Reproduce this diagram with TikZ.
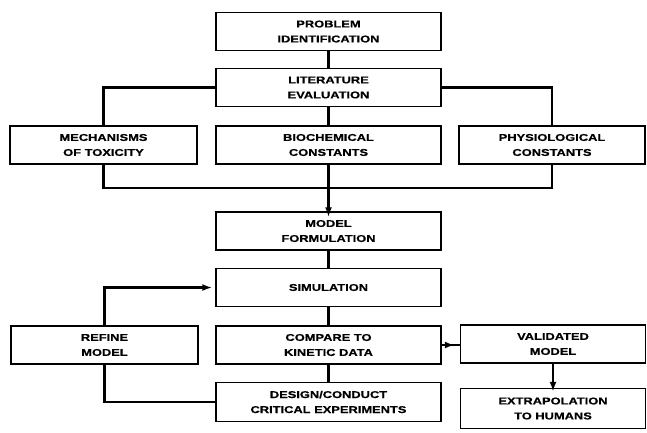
\documentclass[tikz,border=0pt]{standalone}
\usepackage{fontspec}
\newfontfamily\boxfont[FakeStretch=1.3,FakeBold=0.6]{Liberation Sans}
\usetikzlibrary{arrows.meta}
\begin{document}
\begin{tikzpicture}[x=1pt,y=-1pt,
  box/.style={draw=black,line width=1.5pt,fill=white,minimum height=38pt,
    align=center,inner sep=0pt,font=\boxfont\bfseries\fontsize{9.9pt}{15pt}\selectfont},
  wide/.style={box,minimum width=225pt},
  side/.style={box,minimum width=187pt},
  conn/.style={line width=2.8pt,line cap=butt},
  arr/.style={conn,-{Latex[length=10pt,width=7pt]}}]
\useasboundingbox (0,0) rectangle (647,432);
% nodes
\node[wide] (prob) at (328.5,31.5) {PROBLEM\\IDENTIFICATION};
\node[wide] (lit) at (328.5,87.5) {LITERATURE\\EVALUATION};
\node[side] (mech) at (103.5,145) {MECHANISMS\\OF TOXICITY};
\node[wide] (bio) at (328.5,145) {BIOCHEMICAL\\CONSTANTS};
\node[side,minimum width=186pt] (phys) at (552,145) {PHYSIOLOGICAL\\CONSTANTS};
\node[wide] (model) at (328.5,231) {MODEL\\FORMULATION};
\node[wide] (sim) at (328.5,287.5) {SIMULATION};
\node[side] (refine) at (104.5,345) {REFINE\\MODEL};
\node[wide] (comp) at (328.5,345) {COMPARE TO\\KINETIC DATA};
\node[side,minimum width=185pt] (val) at (553,344) {VALIDATED\\MODEL};
\node[wide,minimum height=39pt] (design) at (328.5,402) {DESIGN/CONDUCT\\CRITICAL EXPERIMENTS};
\node[side,minimum width=185pt,minimum height=40pt] (extra) at (553,408.5) {EXTRAPOLATION\\TO HUMANS};
\coordinate (bus) at (328.5,188);
% connectors
\draw[conn] (prob) -- (lit);
\draw[conn] (lit.west) -| (mech.north);
\draw[conn] (lit.east) -| (phys.north);
\draw[conn] (lit) -- (bio);
\draw[conn] (mech.south) |- (bus) -| (phys.south);
\draw[conn] (bio) -- (bus);
\draw[conn] (bus) -- (model.north);
\draw[arr] (bus) -- ([yshift=-6pt]model.north);
\draw[conn] (model) -- (sim);
\draw[conn] (sim) -- (comp);
\draw[conn] (comp) -- (design);
\draw[conn] (comp.east) -- (val.west |- comp.east);
\draw[arr] (comp.east) -- ([xshift=-5pt]val.west |- comp.east);
\draw[conn] (val) -- (extra);
\draw[arr] (val.south) -- ([yshift=-4pt]extra.north);
\draw[arr] (refine.north) |- ([xshift=-3pt]sim.west);
\draw[conn] (refine.south) |- (design.west);
\end{tikzpicture}
\end{document}
